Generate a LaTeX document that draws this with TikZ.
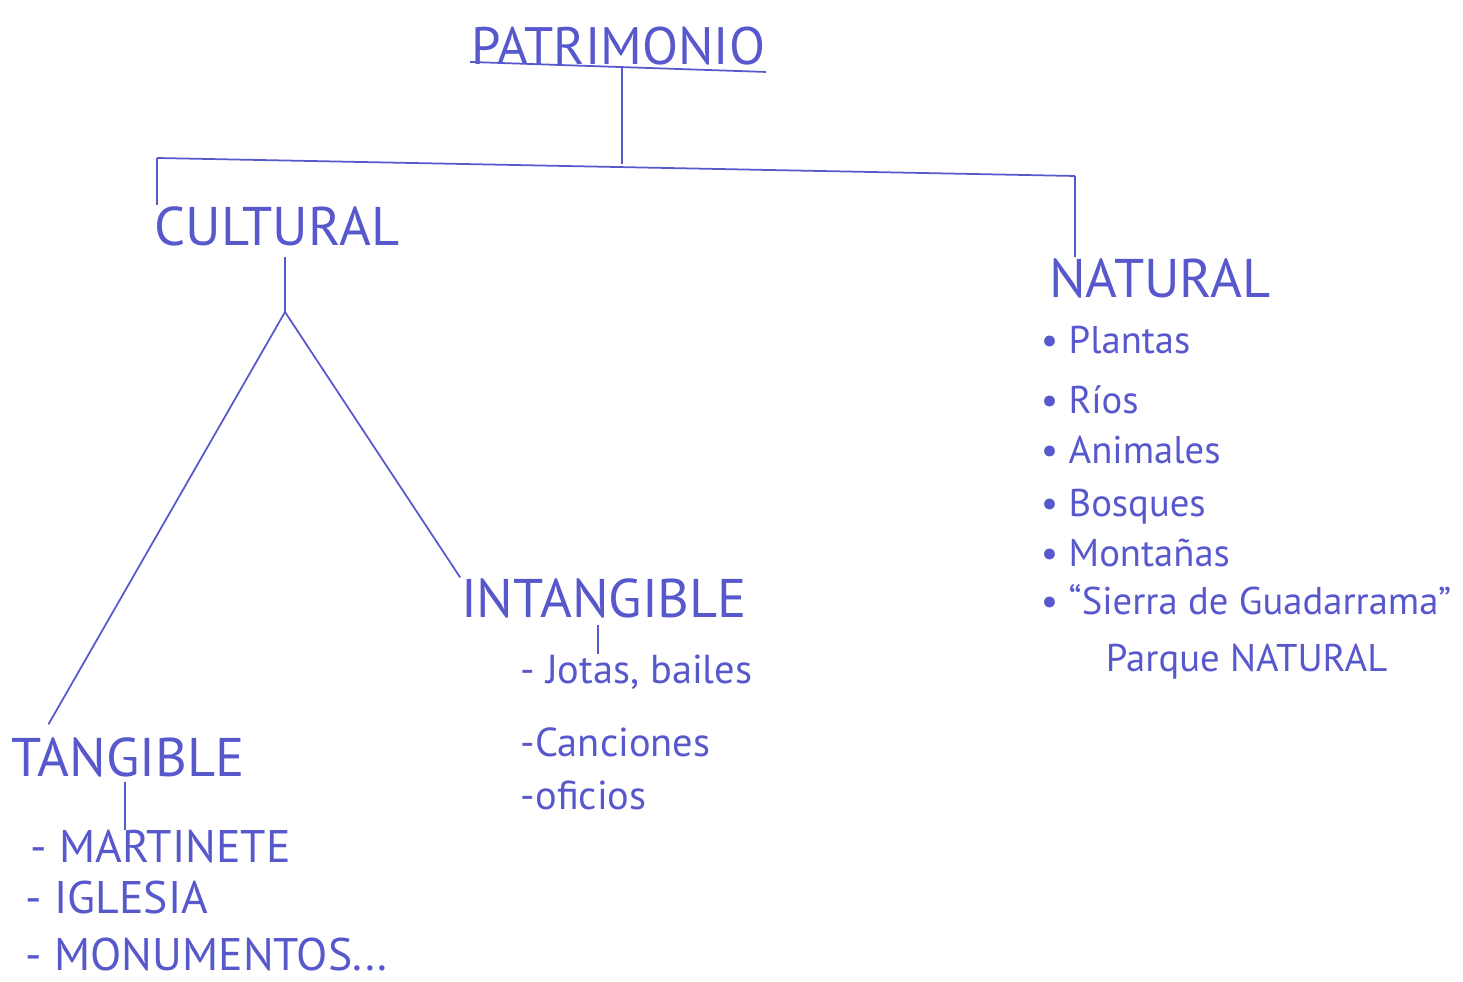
\documentclass[tikz,border=0pt]{standalone}
\usepackage{fontspec}
\setmainfont{PT Sans}
\usetikzlibrary{calc}
\definecolor{ink}{RGB}{88,88,205}

\begin{document}
\begin{tikzpicture}[x=0.02cm,y=-0.02cm,
  line width=1pt,
  every node/.style={text=ink,inner sep=0pt},
  title/.style={font=\fontsize{30}{36}\selectfont},
  branch/.style={font=\fontsize{31}{36}\selectfont},
  item/.style={anchor=west,font=\fontsize{23}{27}\selectfont},
  capitem/.style={item,font=\fontsize{26}{30}\selectfont},
  natitem/.style={item,font=\fontsize{22}{26}\selectfont}]
  \useasboundingbox (0,0) rectangle (1463,982);
  \node[title] (pat) at (618,46) {PATRIMONIO};
  \draw[ink] ($(pat.south west)+(0,-4)$) -- ($(pat.south east)+(0,6)$);
  \coordinate (top) at (622,164);
  \coordinate (lft) at (157,158);
  \coordinate (rgt) at (1075,176);
  \draw[ink] (top |- pat.south) -- (top);
  \draw[ink] (lft) -- (rgt);
  \node[branch] (cul) at (277,226) {CULTURAL};
  \node[branch] (nat) at (1160,278) {NATURAL};
  \draw[ink] (lft) -- (lft |- cul.north);
  \draw[ink] (rgt) -- (rgt |- nat.north);
  \coordinate (fork) at (285,312);
  \draw[ink] ($(fork |- cul.south)+(0,10)$) -- (fork);
  \node[branch] (int) at (604,598) {INTANGIBLE};
  \node[branch] (tan) at (128,757) {TANGIBLE};
  \draw[ink] (fork) -- ($(tan.north west)+(38,-12)$);
  \draw[ink] (fork) -- (int.north west);
  \node[item] (jot) at (520,672) {- Jotas, bailes};
  \node[item] (can) at (520,742) {-Canciones};
  \node[item] (ofi) at (520,795) {-oficios};
  \draw[ink] ($(int.south)+(-6,6)$) -- ($(int.south |- jot.north)+(-6,0)$);
  \node[capitem] (mar) at (30,847) {- MARTINETE};
  \node[capitem] (igl) at (25,898) {- IGLESIA};
  \node[capitem] (mnt) at (25,955) {- MONUMENTOS...};
  \draw[ink] ($(tan.south)+(-3,4)$) -- ($(tan.south |- mar.north)+(-3,0)$);
  \node[natitem] (pla) at (1040,340) {\textbullet\ Plantas};
  \node[natitem] (rio) at (1040,400) {\textbullet\ Ríos};
  \node[natitem] (ani) at (1040,450) {\textbullet\ Animales};
  \node[natitem] (bos) at (1040,507) {\textbullet\ Bosques};
  \node[natitem] (mon) at (1040,553) {\textbullet\ Montañas};
  \node[natitem] (sie) at (1040,600) {\textbullet\ “Sierra de Guadarrama”};
  \node[natitem] (par) at (1105,662) {Parque NATURAL};
\end{tikzpicture}
\end{document}
